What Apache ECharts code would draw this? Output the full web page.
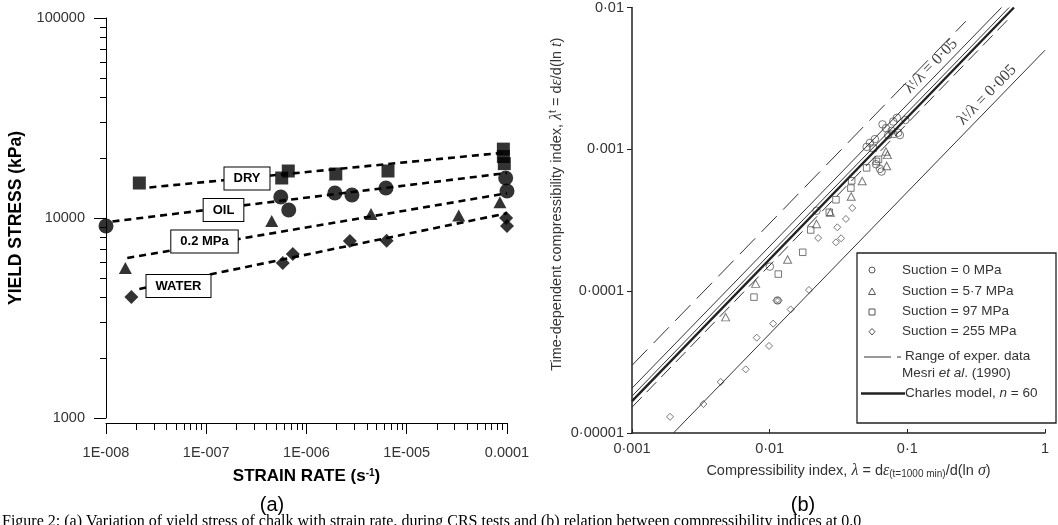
<!DOCTYPE html>
<html><head><meta charset="utf-8">
<script src="https://cdn.jsdelivr.net/npm/echarts@6/dist/echarts.min.js"></script>
<style>html,body{margin:0;padding:0;background:#fff}#c{width:1058px;height:525px}</style>
</head><body><div id="c"></div>
<script>
// ---------- Panel (a): yield stress vs strain rate ----------
const strainTickLabels = ['1E-008','1E-007','1E-006','1E-005','0.0001'];
const stressTickLabels = ['1000','10000','100000'];
const dryPoints   = [[2.15e-8,14960],[5.66e-7,15850],[6.58e-7,17180],[1.96e-6,16600],[6.5e-6,17180],[9.2e-5,22100],[9.2e-5,20300],[9.4e-5,18700]];
const oilPoints   = [[1.0e-8,9120],[5.54e-7,12740],[6.65e-7,10960],[1.92e-6,13340],[2.84e-6,13030],[6.2e-6,14130],[9.7e-5,15850],[1.0e-4,13650]];
const mpa02Points = [[1.56e-8,5620],[4.5e-7,9660],[4.4e-6,10470],[3.3e-5,10300],[8.5e-5,12000]];
const waterPoints = [[1.79e-8,4030],[5.8e-7,5960],[7.3e-7,6610],[2.71e-6,7670],[6.3e-6,7700],[9.8e-5,10000],[1.0e-4,9120]];
const dryTrend    = [[2.71e-8,14210],[1.0e-4,21300]];
const oilTrend    = [[1.16e-8,9605],[1.0e-4,16790]];
const mpa02Trend  = [[1.63e-8,6310],[1.0e-4,13300]];
const waterTrend  = [[2.15e-8,4416],[1.0e-4,10560]];
const curveLabels = ['DRY','OIL','0.2 MPa','WATER'];

// ---------- Panel (b): time-dependent vs compressibility index ----------
const lambdaTickLabels  = ['0·001','0·01','0·1','1'];
const lambdaTTickLabels = ['0·00001','0·0001','0·001','0·01'];
const suction0   = [[0.01004,1.49e-4],[0.0114,8.6e-5],[0.0219,3.69e-4],[0.0506,1.04e-3],[0.0535,1.11e-3],[0.0581,1.18e-3],[0.0699,1.41e-3],[0.0726,1.26e-3],[0.0790,1.57e-3],[0.0840,1.67e-3],[0.0769,1.35e-3],[0.0859,1.31e-3],[0.0883,1.26e-3],[0.0968,1.61e-3],[0.0650,6.97e-4],[0.0592,7.85e-4],[0.0633,7.28e-4],[0.0660,1.50e-3]];
const suction57  = [[0.00479,6.56e-5],[0.00791,1.13e-4],[0.0135,1.67e-4],[0.0219,2.98e-4],[0.0276,3.59e-4],[0.0391,4.65e-4],[0.0470,5.97e-4],[0.0708,7.64e-4],[0.0717,9.14e-4],[0.0699,9.64e-4]];
const suction97  = [[0.00769,9.08e-5],[0.01155,1.32e-4],[0.01738,1.88e-4],[0.01987,2.70e-4],[0.0271,3.60e-4],[0.0303,4.41e-4],[0.0389,5.33e-4],[0.0394,6.0e-4],[0.0506,7.40e-4],[0.0597,8.22e-4],[0.0617,8.49e-4],[0.0565,1.02e-3],[0.0786,1.28e-3]];
const suction255 = [[0.00189,1.30e-5],[0.00330,1.60e-5],[0.00441,2.29e-5],[0.00670,2.81e-5],[0.00805,4.70e-5],[0.00989,4.11e-5],[0.0106,5.90e-5],[0.0112,8.6e-5],[0.0116,8.6e-5],[0.0142,7.43e-5],[0.0193,1.02e-4],[0.0225,2.37e-4],[0.0310,2.82e-4],[0.0330,2.36e-4],[0.0303,2.21e-4],[0.0358,3.23e-4],[0.0398,3.86e-4]];
const mesriUpper   = [[0.001,3.0e-5],[0.266,0.008]];
const thinUpper    = [[0.001,2.07e-5],[0.483,0.01]];
const thinMiddle   = [[0.001,1.82e-5],[0.549,0.01]];
const charlesModel = [[0.001,1.68e-5],[0.595,0.01]];
const mesriLower   = [[0.001,1.52e-5],[0.55,0.0084]];
const ratio0005    = [[0.002,1.0e-5],[1.0,0.005]];
const legendLabels = ['Suction = 0 MPa','Suction = 5·7 MPa','Suction = 97 MPa','Suction = 255 MPa','Range of exper. data','Mesri ','Charles model, '];

// minor tick positions (2..9 within each decade)
function minorTicks(lo, hi){const r=[];for(let e=lo;e<hi;e++){for(let m=2;m<=9;m++){r.push(+(m*Math.pow(10,e)).toPrecision(3));}}return r;}
const strainMajor = [1e-8,1e-7,1e-6,1e-5,1e-4];
const stressMajor = [1000,10000,100000];

const chart = echarts.init(document.getElementById('c'));
const FONT = '"Liberation Sans", Arial, sans-serif';
const SERIF = '"Liberation Serif", "Times New Roman", serif';
const dark = '#333';
const hollow = c => ({color:'rgba(0,0,0,0)', borderColor:c, borderWidth:1});

const option = {
  animation:false,
  backgroundColor:'#fff',
  grid:[
    {left:106, top:18, width:401, height:400},
    {left:632, top:6, width:413, height:427}
  ],
  xAxis:[
    {gridIndex:0, type:'log', logBase:10, min:1e-8, max:1e-4, offset:5, position:'bottom',
     axisLine:{lineStyle:{color:'#000', width:1}},
     axisTick:{length:11, customValues:strainMajor, lineStyle:{color:'#000'}},
     axisLabel:{customValues:strainMajor, margin:22, fontSize:14.5, color:'#333', fontFamily:FONT,
       formatter:v=>strainTickLabels[Math.round(Math.log10(v))+8]},
     splitLine:{show:false},
     name:'STRAIN RATE (s{sup|-1})', nameLocation:'middle', nameGap:45,
     nameTextStyle:{fontSize:17, fontWeight:'bold', color:'#000', fontFamily:FONT,
       rich:{sup:{fontSize:10, fontWeight:'bold', verticalAlign:'top', color:'#000', fontFamily:FONT, padding:[0,0,6,0]}}}},
    {gridIndex:0, type:'log', logBase:10, min:1e-8, max:1e-4, offset:5, position:'bottom',
     axisLine:{show:false}, axisLabel:{show:false}, splitLine:{show:false},
     axisTick:{length:7, customValues:minorTicks(-8,-4), lineStyle:{color:'#000'}}},
    {gridIndex:1, type:'log', logBase:10, min:0.001, max:1, position:'bottom',
     axisLine:{lineStyle:{color:'#222', width:1.5}},
     axisTick:{inside:true, length:4, lineStyle:{color:'#222'}},
     axisLabel:{margin:8, fontSize:14.5, color:dark, fontFamily:FONT,
       formatter:v=>lambdaTickLabels[Math.round(Math.log10(v))+3]},
     splitLine:{show:false},
     name:'Compressibility index, {i|λ} = d{i|ε}{sub|(t=1000 min)}/d(ln {i|σ})', nameLocation:'middle', nameGap:30,
     nameTextStyle:{fontSize:14.5, color:dark, fontFamily:FONT, padding:[0,0,0,20],
       rich:{i:{fontStyle:'italic', fontFamily:SERIF, fontSize:16, color:dark},
             sub:{fontSize:10, color:dark, fontFamily:FONT, verticalAlign:'bottom', padding:[6,0,0,0]}}}}
  ],
  yAxis:[
    {gridIndex:0, type:'log', logBase:10, min:1000, max:100000, position:'left',
     axisLine:{lineStyle:{color:'#000', width:1}},
     axisTick:{length:12, customValues:stressMajor, lineStyle:{color:'#000'}},
     axisLabel:{customValues:stressMajor, margin:21, fontSize:14.5, color:'#333', fontFamily:FONT,
       formatter:v=>stressTickLabels[Math.round(Math.log10(v))-3]},
     splitLine:{show:false},
     name:'YIELD STRESS (kPa)', nameLocation:'middle', nameRotate:90, nameGap:81,
     nameTextStyle:{fontSize:17.5, fontWeight:'bold', color:'#000', fontFamily:FONT}},
    {gridIndex:0, type:'log', logBase:10, min:1000, max:100000, position:'left',
     axisLine:{show:false}, axisLabel:{show:false}, splitLine:{show:false},
     axisTick:{length:6, customValues:minorTicks(3,5), lineStyle:{color:'#000'}}},
    {gridIndex:1, type:'log', logBase:10, min:0.00001, max:0.01, position:'left',
     axisLine:{lineStyle:{color:'#222', width:1.5}},
     axisTick:{length:5, lineStyle:{color:'#222'}},
     axisLabel:{margin:8, fontSize:14.5, color:dark, fontFamily:FONT,
       formatter:v=>lambdaTTickLabels[Math.round(Math.log10(v))+5]},
     splitLine:{show:false},
     name:'Time-dependent compressibility index, {i|λ}{sup|t} = d{i|ε}/d(ln {i|t})', nameLocation:'middle', nameRotate:90, nameGap:66,
     nameTextStyle:{fontSize:14.5, color:dark, fontFamily:FONT, padding:[0,0,0,32],
       rich:{i:{fontStyle:'italic', fontFamily:SERIF, fontSize:16, color:dark},
             sup:{fontSize:10.5, color:dark, fontFamily:FONT, verticalAlign:'top', padding:[0,0,7,0]}}}}
  ],
  series:[
    // panel (a) trend lines
    ...[dryTrend, oilTrend, mpa02Trend, waterTrend].map(d=>({type:'line', xAxisIndex:0, yAxisIndex:0, data:d, symbol:'none', silent:true, z:2,
        lineStyle:{color:'#000', width:2.6, type:[7,5]}})),
    {type:'scatter', name:'DRY', xAxisIndex:0, yAxisIndex:0, data:dryPoints, symbol:'rect', symbolSize:13, itemStyle:{color:'#000'}, z:3},
    {type:'scatter', name:'OIL', xAxisIndex:0, yAxisIndex:0, data:oilPoints, symbol:'circle', symbolSize:15, itemStyle:{color:'#000'}, z:3},
    {type:'scatter', name:'0.2 MPa', xAxisIndex:0, yAxisIndex:0, data:mpa02Points, symbol:'triangle', symbolSize:[13,12], itemStyle:{color:'#000'}, z:3},
    {type:'scatter', name:'WATER', xAxisIndex:0, yAxisIndex:0, data:waterPoints, symbol:'diamond', symbolSize:[14,14], itemStyle:{color:'#000'}, z:3},
    // panel (b) lines
    {type:'line', xAxisIndex:2, yAxisIndex:2, data:mesriUpper, symbol:'none', silent:true, lineStyle:{color:dark, width:1, type:[22,9]}},
    {type:'line', xAxisIndex:2, yAxisIndex:2, data:thinUpper, symbol:'none', silent:true, lineStyle:{color:dark, width:1}},
    {type:'line', xAxisIndex:2, yAxisIndex:2, data:thinMiddle, symbol:'none', silent:true, lineStyle:{color:dark, width:1}},
    {type:'line', xAxisIndex:2, yAxisIndex:2, data:charlesModel, symbol:'none', silent:true, lineStyle:{color:'#222', width:2.4}},
    {type:'line', xAxisIndex:2, yAxisIndex:2, data:mesriLower, symbol:'none', silent:true, lineStyle:{color:dark, width:1, type:[14,7]}},
    {type:'line', xAxisIndex:2, yAxisIndex:2, data:ratio0005, symbol:'none', silent:true, lineStyle:{color:dark, width:1}},
    // panel (b) data
    {type:'scatter', name:legendLabels[0], xAxisIndex:2, yAxisIndex:2, data:suction0, symbol:'circle', symbolSize:7.5, itemStyle:hollow('#555')},
    {type:'scatter', name:legendLabels[1], xAxisIndex:2, yAxisIndex:2, data:suction57, symbol:'triangle', symbolSize:[8,7.5], itemStyle:hollow('#555')},
    {type:'scatter', name:legendLabels[2], xAxisIndex:2, yAxisIndex:2, data:suction97, symbol:'rect', symbolSize:6.5, itemStyle:hollow('#555')},
    {type:'scatter', name:legendLabels[3], xAxisIndex:2, yAxisIndex:2, data:suction255, symbol:'diamond', symbolSize:[7,7], itemStyle:hollow('#555')}
  ],
  graphic:[
    // curve labels panel (a)
    ...[[curveLabels[0],247,178.5],[curveLabels[1],223.5,210],[curveLabels[2],204.5,241.5],[curveLabels[3],178.5,286]].map(([t,x,y])=>({
      type:'text', x:x, y:y, z:10,
      style:{text:t, align:'center', verticalAlign:'middle', font:'bold 13px '+FONT, fill:'#000',
             backgroundColor:'#fff', borderColor:'#000', borderWidth:1, padding:[5,9,4,9]}})),
    // ratio labels panel (b)
    {type:'text', x:931, y:66, rotation:0.80, z:10,
     style:{text:'λ{s|t}/λ = 0·05', align:'center', verticalAlign:'middle', font:'16px '+SERIF, fill:'#444',
            rich:{s:{font:'10px '+SERIF, fill:'#444', verticalAlign:'top', padding:[0,0,6,0]}}}},
    {type:'text', x:987, y:95, rotation:0.80, z:10,
     style:{text:'λ{s|t}/λ = 0·005', align:'center', verticalAlign:'middle', font:'16px '+SERIF, fill:'#444',
            rich:{s:{font:'10px '+SERIF, fill:'#444', verticalAlign:'top', padding:[0,0,6,0]}}}},
    // legend box panel (b)
    {type:'rect', shape:{x:857, y:253, width:199, height:170}, z:20, style:{fill:'#fff', stroke:'#222', lineWidth:1.3}},
    {type:'circle', shape:{cx:872, cy:270, r:3}, z:21, style:{fill:'none', stroke:'#555', lineWidth:1}},
    {type:'polygon', shape:{points:[[872,288],[875.5,294.5],[868.5,294.5]]}, z:21, style:{fill:'none', stroke:'#555', lineWidth:1}},
    {type:'rect', shape:{x:869, y:309, width:6, height:6}, z:21, style:{fill:'none', stroke:'#555', lineWidth:1}},
    {type:'polygon', shape:{points:[[872,328.5],[875,331.7],[872,335],[869,331.7]]}, z:21, style:{fill:'none', stroke:'#555', lineWidth:1}},
    {type:'line', shape:{x1:864, y1:357, x2:891, y2:357}, z:21, style:{stroke:'#333', lineWidth:1}},
    {type:'line', shape:{x1:897, y1:357, x2:901, y2:357}, z:21, style:{stroke:'#333', lineWidth:1}},
    {type:'line', shape:{x1:861, y1:393.5, x2:905, y2:393.5}, z:21, style:{stroke:'#222', lineWidth:2.6}},
    ...[[legendLabels[0],902,270],[legendLabels[1],902,291.5],[legendLabels[2],902,311.5],[legendLabels[3],902,331.5],[legendLabels[4],905,356.5]].map(([t,x,y])=>({
      type:'text', x:x, y:y, z:22, style:{text:t, verticalAlign:'middle', font:'13.5px '+FONT, fill:'#333'}})),
    {type:'text', x:902, y:373.5, z:22, style:{text:legendLabels[5]+'{i|et al}. (1990)', verticalAlign:'middle', font:'13.5px '+FONT, fill:'#333',
      rich:{i:{font:'italic 13.5px '+FONT, fill:'#333'}}}},
    {type:'text', x:905, y:393.5, z:22, style:{text:legendLabels[6]+'{i|n} = 60', verticalAlign:'middle', font:'13.5px '+FONT, fill:'#333',
      rich:{i:{font:'italic 13.5px '+FONT, fill:'#333'}}}},
    // panel captions
    {type:'text', x:272, y:505, style:{text:'(a)', align:'center', verticalAlign:'middle', font:'20px '+FONT, fill:'#000'}},
    {type:'text', x:803, y:505, style:{text:'(b)', align:'center', verticalAlign:'middle', font:'20px '+FONT, fill:'#000'}},
    {type:'text', x:2, y:514, style:{text:'Figure 2: (a) Variation of yield stress of chalk with strain rate, during CRS tests and (b) relation between compressibility indices at 0.0', font:'16px '+SERIF, fill:'#000'}}
  ]
};
chart.setOption(option);
</script>
</body></html>
